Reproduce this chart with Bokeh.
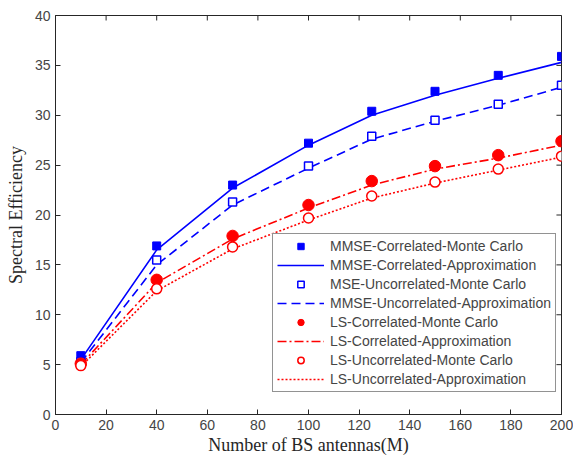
from bokeh.plotting import figure
from bokeh.models import Range1d, Legend, LegendItem, FixedTicker
from bokeh.embed import file_html
from bokeh.resources import INLINE

M = [10, 40, 70, 100, 125, 150, 175, 200]
mmse_corr_mc = [5.9, 16.9, 23.0, 27.2, 30.4, 32.4, 34.0, 35.9]
mmse_corr_ap = [5.5, 16.5, 22.7, 27.0, 30.0, 32.0, 33.7, 35.3]
mmse_unc_mc = [5.3, 15.5, 21.3, 24.9, 27.9, 29.5, 31.1, 33.0]
mmse_unc_ap = [5.2, 15.0, 21.0, 24.7, 27.6, 29.4, 31.0, 32.8]
ls_corr_mc = [5.1, 13.5, 17.9, 21.0, 23.4, 24.9, 26.0, 27.4]
ls_corr_ap = [5.0, 13.2, 17.6, 20.7, 23.0, 24.6, 25.7, 27.0]
ls_unc_mc = [4.9, 12.6, 16.8, 19.7, 21.9, 23.3, 24.6, 25.9]
ls_unc_ap = [4.8, 12.4, 16.6, 19.5, 21.7, 23.2, 24.5, 25.8]

x_ticks = [0, 20, 40, 60, 80, 100, 120, 140, 160, 180, 200]
y_ticks = [0, 5, 10, 15, 20, 25, 30, 35, 40]

labels = ["MMSE-Correlated-Monte Carlo", "MMSE-Correlated-Approximation",
          "MSE-Uncorrelated-Monte Carlo", "MMSE-Uncorrelated-Approximation",
          "LS-Correlated-Monte Carlo", "LS-Correlated-Approximation",
          "LS-Uncorrelated-Monte Carlo", "LS-Uncorrelated-Approximation"]

BLUE = "#0000ff"
RED = "#ff0000"
GREY = "#454545"
DARK = "#262626"

X0, X1, Y0, Y1 = 0, 200, 0, 40

p = figure(width=573, height=461, output_backend="svg", toolbar_location=None,
           x_range=Range1d(X0, X1), y_range=Range1d(Y0, Y1),
           min_border_left=55, min_border_right=12, min_border_top=15, min_border_bottom=47)
p.grid.visible = False
p.outline_line_color = DARK
p.outline_line_width = 1

p.xaxis.ticker = FixedTicker(ticks=x_ticks)
p.yaxis.ticker = FixedTicker(ticks=y_ticks)
for ax in (p.xaxis[0], p.yaxis[0]):
    ax.major_tick_in = 5
    ax.major_tick_out = 0
    ax.minor_tick_in = 0
    ax.minor_tick_out = 0
    ax.axis_line_color = DARK
    ax.major_tick_line_color = DARK
    ax.major_label_text_color = GREY
    ax.major_label_text_font = "Liberation Sans"
    ax.major_label_text_font_size = "14px"
    ax.axis_label_text_font = "Liberation Serif"
    ax.axis_label_text_font_style = "normal"
    ax.axis_label_text_font_size = "18px"
    ax.axis_label_text_color = DARK
p.xaxis.axis_label = "Number of BS antennas(M)"
p.yaxis.axis_label = "Spectral Efficiency"
p.xaxis.axis_label_standoff = 2
p.yaxis.axis_label_standoff = 6
p.yaxis.major_label_standoff = 5
p.xaxis.major_label_standoff = 5

# inward ticks on top and right edges of the box
p.segment(x0=x_ticks, y0=[Y1] * len(x_ticks), x1=x_ticks, y1=[Y1 - 0.5] * len(x_ticks),
          line_color=DARK, line_width=1)
p.segment(x0=[X1] * len(y_ticks), y0=y_ticks, x1=[X1 - 2] * len(y_ticks), y1=y_ticks,
          line_color=DARK, line_width=1)

lw = 1.6
r2 = p.line(M, mmse_corr_ap, line_color=BLUE, line_width=lw)
r4 = p.line(M, mmse_unc_ap, line_color=BLUE, line_width=lw, line_dash="9 5")
r6 = p.line(M, ls_corr_ap, line_color=RED, line_width=lw, line_dash="9 3 2 3")
r8 = p.line(M, ls_unc_ap, line_color=RED, line_width=lw, line_dash="2 2")
r1 = p.scatter(M, mmse_corr_mc, marker="square", size=8, color=BLUE)
r3 = p.scatter(M, mmse_unc_mc, marker="square", size=8, fill_color="white", line_color=BLUE, line_width=1.5)
r5 = p.scatter(M, ls_corr_mc, marker="circle", size=11.5, color=RED)
r7 = p.scatter(M, ls_unc_mc, marker="circle", size=10, fill_color="white", line_color=RED, line_width=1.5)

items = [LegendItem(label=lab, renderers=[r]) for lab, r in zip(labels, [r1, r2, r3, r4, r5, r6, r7, r8])]
legend = Legend(items=items, location=(217, 22), orientation="vertical",
                label_text_font="Liberation Sans", label_text_font_size="14px",
                label_text_color=GREY, glyph_width=47, glyph_height=16,
                label_height=16, spacing=3, padding=4, margin=0,
                label_standoff=6, border_line_color=DARK, border_line_width=1,
                background_fill_alpha=1.0)
p.add_layout(legend, "center")

open("out.html", "w").write(file_html(p, INLINE))
